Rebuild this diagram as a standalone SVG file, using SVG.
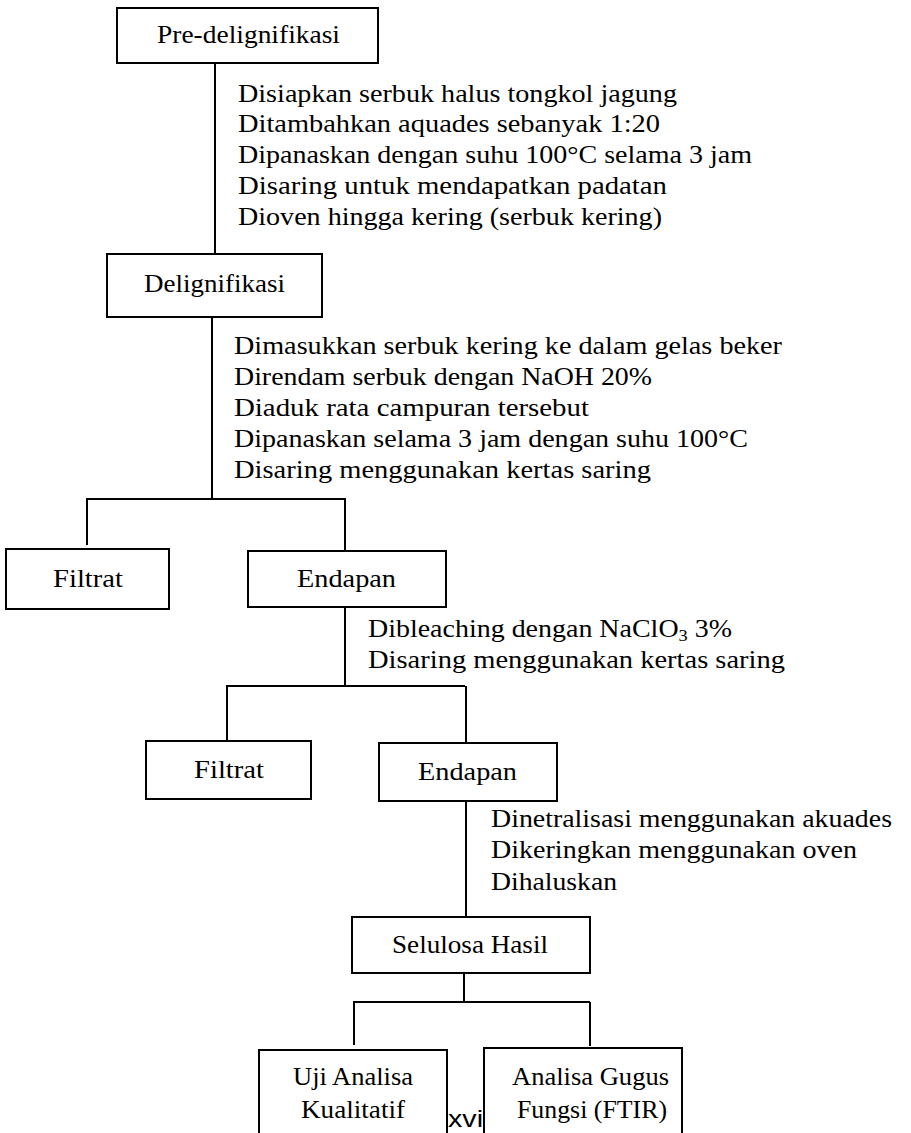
<svg xmlns="http://www.w3.org/2000/svg" width="911" height="1133" viewBox="0 0 911 1133">
<style>
.box{fill:#fff;stroke:#000;stroke-width:2}
.ln{stroke:#000;stroke-width:2;fill:none}
text{font-family:"Liberation Serif","Times New Roman",serif;font-size:26px;fill:#000}
.pg{font-family:"Liberation Sans",Arial,sans-serif;font-size:24px}
</style>
<rect width="911" height="1133" fill="#fff"/>
<text class="pg" x="448" y="1127" textLength="35" lengthAdjust="spacingAndGlyphs">xvi</text>
<g id="connectors">
<line class="ln" x1="215" y1="63" x2="215" y2="254"/>
<line class="ln" x1="212" y1="317" x2="212" y2="499"/>
<line class="ln" x1="86" y1="499" x2="346" y2="499"/>
<line class="ln" x1="87" y1="499" x2="87" y2="545"/>
<line class="ln" x1="345" y1="499" x2="345" y2="551"/>
<line class="ln" x1="345" y1="607" x2="345" y2="686"/>
<line class="ln" x1="226" y1="686" x2="465" y2="686"/>
<line class="ln" x1="227" y1="686" x2="227" y2="740"/>
<line class="ln" x1="466" y1="686" x2="466" y2="743"/>
<line class="ln" x1="466" y1="801" x2="466" y2="917"/>
<line class="ln" x1="464" y1="973" x2="464" y2="1002"/>
<line class="ln" x1="353" y1="1002" x2="590" y2="1002"/>
<line class="ln" x1="354" y1="1002" x2="354" y2="1045"/>
<line class="ln" x1="590" y1="1002" x2="590" y2="1046"/>
</g>
<g id="step1">
<text x="238" y="102" textLength="439" lengthAdjust="spacingAndGlyphs">Disiapkan serbuk halus tongkol jagung</text>
<text x="238" y="132" textLength="422" lengthAdjust="spacingAndGlyphs">Ditambahkan aquades sebanyak 1:20</text>
<text x="238" y="163" textLength="514" lengthAdjust="spacingAndGlyphs">Dipanaskan dengan suhu 100°C selama 3 jam</text>
<text x="238" y="194" textLength="429" lengthAdjust="spacingAndGlyphs">Disaring untuk mendapatkan padatan</text>
<text x="238" y="225" textLength="424" lengthAdjust="spacingAndGlyphs">Dioven hingga kering (serbuk kering)</text>
</g>
<g id="step2">
<text x="234" y="354" textLength="548" lengthAdjust="spacingAndGlyphs">Dimasukkan serbuk kering ke dalam gelas beker</text>
<text x="234" y="385" textLength="418" lengthAdjust="spacingAndGlyphs">Direndam serbuk dengan NaOH 20%</text>
<text x="234" y="416" textLength="355" lengthAdjust="spacingAndGlyphs">Diaduk rata campuran tersebut</text>
<text x="234" y="447" textLength="514" lengthAdjust="spacingAndGlyphs">Dipanaskan selama 3 jam dengan suhu 100°C</text>
<text x="234" y="478" textLength="417" lengthAdjust="spacingAndGlyphs">Disaring menggunakan kertas saring</text>
</g>
<g id="step3">
<text x="368" y="637" textLength="364" lengthAdjust="spacingAndGlyphs">Dibleaching dengan NaClO<tspan font-size="17" dy="4">3</tspan><tspan dy="-4"> 3%</tspan></text>
<text x="368" y="668" textLength="417" lengthAdjust="spacingAndGlyphs">Disaring menggunakan kertas saring</text>
</g>
<g id="step4">
<text x="491" y="827" textLength="401" lengthAdjust="spacingAndGlyphs">Dinetralisasi menggunakan akuades</text>
<text x="491" y="858" textLength="366" lengthAdjust="spacingAndGlyphs">Dikeringkan menggunakan oven</text>
<text x="491" y="890" textLength="126" lengthAdjust="spacingAndGlyphs">Dihaluskan</text>
</g>
<g id="pre-delignifikasi">
<rect class="box" x="117" y="8" width="261" height="55"/>
<text x="157" y="43" textLength="183" lengthAdjust="spacingAndGlyphs">Pre-delignifikasi</text>
</g>
<g id="delignifikasi">
<rect class="box" x="107" y="254" width="215" height="63"/>
<text x="144" y="292" textLength="141" lengthAdjust="spacingAndGlyphs">Delignifikasi</text>
</g>
<g id="filtrat1">
<rect class="box" x="6" y="549" width="163" height="60"/>
<text x="53" y="587" textLength="70" lengthAdjust="spacingAndGlyphs">Filtrat</text>
</g>
<g id="endapan1">
<rect class="box" x="248" y="551" width="198" height="56"/>
<text x="297" y="587" textLength="99" lengthAdjust="spacingAndGlyphs">Endapan</text>
</g>
<g id="filtrat2">
<rect class="box" x="146" y="741" width="165" height="58"/>
<text x="194" y="778" textLength="70" lengthAdjust="spacingAndGlyphs">Filtrat</text>
</g>
<g id="endapan2">
<rect class="box" x="379" y="743" width="178" height="58"/>
<text x="418" y="780" textLength="99" lengthAdjust="spacingAndGlyphs">Endapan</text>
</g>
<g id="selulosa">
<rect class="box" x="352" y="917" width="238" height="56"/>
<text x="392" y="953" textLength="156" lengthAdjust="spacingAndGlyphs">Selulosa Hasil</text>
</g>
<g id="uji">
<rect class="box" x="259" y="1050" width="188" height="100"/>
<text x="293" y="1085" textLength="120" lengthAdjust="spacingAndGlyphs">Uji Analisa</text>
<text x="301" y="1118" textLength="104" lengthAdjust="spacingAndGlyphs">Kualitatif</text>
</g>
<g id="ftir">
<rect class="box" x="484" y="1048" width="198" height="100"/>
<text x="512" y="1085" textLength="157" lengthAdjust="spacingAndGlyphs">Analisa Gugus</text>
<text x="517" y="1118" textLength="150" lengthAdjust="spacingAndGlyphs">Fungsi (FTIR)</text>
</g>
</svg>
